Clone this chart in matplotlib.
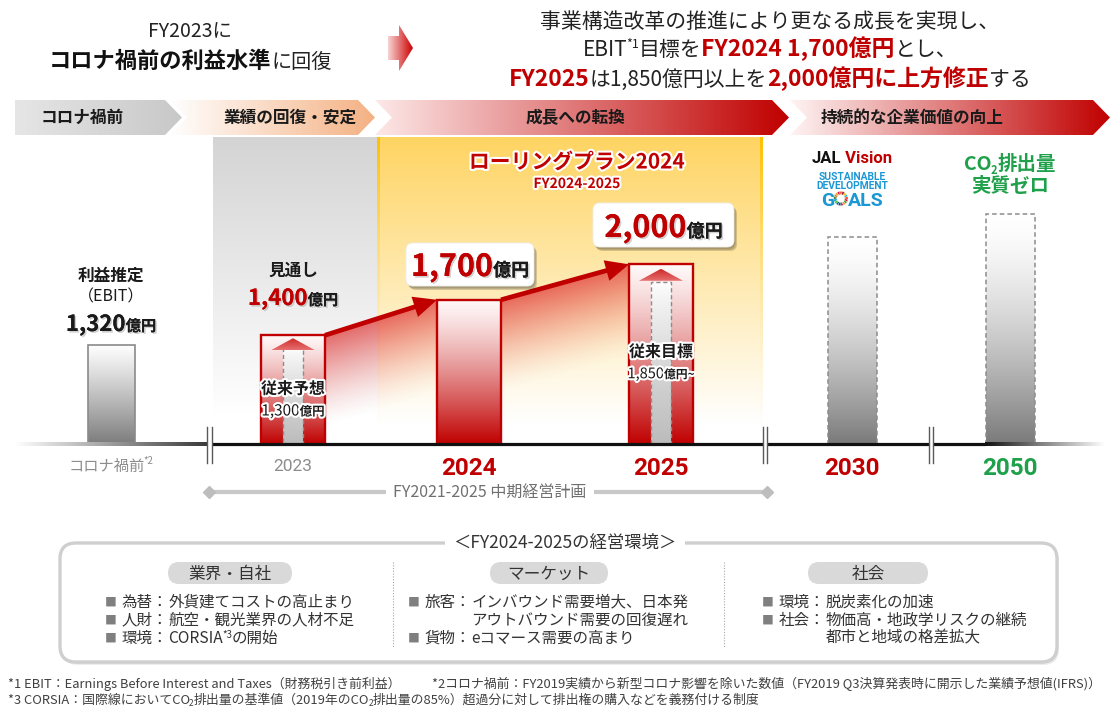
import numpy as np
import matplotlib
matplotlib.use('Agg')
import matplotlib.pyplot as plt
from matplotlib.patches import Polygon, FancyBboxPatch, FancyArrowPatch, Wedge
from matplotlib.colors import to_rgba
import matplotlib.patheffects as pe

JP = ['Noto Sans CJK JP', 'DejaVu Sans']
NUM = ['Roboto', 'Noto Sans CJK JP', 'DejaVu Sans']
NARROW = ['Liberation Sans Narrow', 'Roboto', 'DejaVu Sans']
plt.rcParams['font.family'] = JP

# ---------------- data ----------------
period_labels = ['コロナ禍前', '2023', '2024', '2025', '2030', '2050']
ebit_values = [1320, 1400, 1700, 2000]      # 億円 (利益推定, 見通し, 目標, 目標)
ebit_text = ['1,320', '1,400', '1,700', '2,000']
previous_plan = [1300, 1850]                # 従来予想(2023), 従来目標(2025)
previous_text = ['1,300', '1,850']
vision_levels = [2230, 2430]                # 2030 / 2050 (illustrative, no value shown)
phase_labels = ['コロナ禍前', '業績の回復・安定', '成長への転換', '持続的な企業価値の向上']
env_headers = ['業界・自社', 'マーケット', '社会']
env_items = [
    [('為替', '外貨建てコストの高止まり'), ('人財', '航空・観光業界の人材不足'), ('環境', 'CORSIA*3の開始')],
    [('旅客', 'インバウンド需要増大、日本発'), (None, 'アウトバウンド需要の回復遅れ'), ('貨物', 'eコマース需要の高まり')],
    [('環境', '脱炭素化の加速'), ('社会', '物価高・地政学リスクの継続'), (None, '都市と地域の格差拡大')],
]

# ---------------- layout ----------------
W, H = 1113, 715
BASE = 444
TOP_PANEL = 137
YMIN = 480
PX_PER = 0.1182
YMAX = YMIN + (BASE - TOP_PANEL) / PX_PER
xc = [111, 293, 469, 661, 852, 1010]
bw = [47, 64, 64, 64, 49, 49]
RED = '#c00000'
GREEN = '#1fa04a'
GRAYTXT = '#8c8c8c'

fig = plt.figure(figsize=(W / 100, H / 100), dpi=100, facecolor='white')
bg = fig.add_axes([0, 0, 1, 1])
bx = fig.add_axes([0, (H - BASE) / H, 1, (BASE - TOP_PANEL) / H])
fg = fig.add_axes([0, 0, 1, 1])
for a, z in ((bg, 0), (bx, 1), (fg, 2)):
    a.set_zorder(z)
    a.axis('off')
    a.patch.set_visible(False)


def reset():
    for a in (bg, fg):
        a.set_xlim(0, W)
        a.set_ylim(H, 0)
    bx.set_xlim(0, W)
    bx.set_ylim(YMIN, YMAX)


reset()
renderer = fig.canvas.get_renderer()


def grad(a, extent, c0, c1, horizontal=False, gamma=1.0, a0=1.0, a1=1.0, clip=None, z=1, n=256):
    t = np.linspace(0, 1, n) ** gamma
    c0 = np.array(to_rgba(c0, a0))
    c1 = np.array(to_rgba(c1, a1))
    arr = c0 * (1 - t[:, None]) + c1 * t[:, None]
    arr = arr[None, :, :] if horizontal else arr[:, None, :]
    im = a.imshow(arr, extent=extent, origin='upper', aspect='auto',
                  interpolation='bilinear', zorder=z)
    if clip is not None:
        im.set_clip_path(clip)
    return im


def rich(a, x, yc, pieces, ha='center', z=10, effects=None):
    objs = []
    maxpx = max(kw.get('size', 10) for _, kw in pieces) / 0.72
    yb = yc + 0.36 * maxpx
    for s, kw in pieces:
        kw = dict(kw)
        dy = kw.pop('dy', 0)
        dx = kw.pop('dx', 0)
        kw.setdefault('family', JP)
        t = a.text(0, 0, s, ha='left', va='baseline', zorder=z, **kw)
        if effects:
            t.set_path_effects(effects)
        w = t.get_window_extent(renderer).width
        objs.append([t, dy, w, dx])
    total = sum(o[2] + o[3] for o in objs)
    cur = {'center': x - total / 2, 'left': x, 'right': x - total}[ha]
    for o in objs:
        cur += o[3]
        o[0].set_position((cur, yb + o[1]))
        o.append(cur)
        cur += o[2]
    return objs, cur, yb


# ---------------- header ----------------
rich(fg, 190, 30, [('FY2023に', dict(size=14, color='#222222'))])
rich(fg, 190, 60, [('コロナ禍前の利益水準', dict(size=16, weight='bold', color='#111111')),
                   ('に回復', dict(size=14.5, color='#222222'))])

arrow_pts = [(388, 36), (399, 36), (399, 25), (413, 48), (399, 71), (399, 60), (388, 60)]
p = Polygon(arrow_pts, closed=True, transform=bg.transData, fc='none', ec='none')
bg.add_patch(p)
grad(bg, (388, 413, 71, 25), '#f8d4d4', '#cc0000', horizontal=True, clip=p, z=2)

rich(fg, 770, 20, [('事業構造改革の推進により更なる成長を実現し、', dict(size=15, color='#222222'))])
rich(fg, 770, 48, [('EBIT', dict(size=15, color='#222222')),
                   ('*1', dict(size=9, color='#222222', dy=-8, dx=-1.5)),
                   ('目標を', dict(size=15, color='#222222')),
                   ('FY2024 1,700億円', dict(size=16.5, weight='bold', color=RED)),
                   ('とし、', dict(size=15, color='#222222'))])
rich(fg, 770, 78, [('FY2025', dict(size=16.5, weight='bold', color=RED)),
                   ('は1,850億円以上を', dict(size=15, color='#222222')),
                   ('2,000億円に上方修正', dict(size=16.5, weight='bold', color=RED)),
                   ('する', dict(size=15, color='#222222'))])

# ---------------- phase banner ----------------
def chevron(x0, x1, notch, tip=17, y0=100, y1=135):
    ym = (y0 + y1) / 2
    pts = [(x0, y0), (x1, y0), (x1 + tip, ym), (x1, y1), (x0, y1)]
    if notch:
        pts.append((x0 + tip, ym))
    return pts


phase_geom = [(15, 165, False, '#e6e6e6', '#c8c8c8'),
              (170, 358, True, '#ffffff', '#f4b183'),
              (375, 772, True, '#fde8e8', '#c00000'),
              (790, 1093, True, '#fff4f4', '#c00000')]
phase_text_x = [82, 290, 575, 912]
for (x0, x1, notch, c0, c1), lab, tx in zip(phase_geom, phase_labels, phase_text_x):
    p = Polygon(chevron(x0, x1, notch), closed=True, transform=bg.transData, fc='none', ec='none')
    bg.add_patch(p)
    grad(bg, (x0, x1 + 17, 135, 100), c0, c1, horizontal=True, clip=p, z=2)
    rich(fg, tx, 117, [(lab, dict(size=12, weight='bold', color='#1a1a1a'))])

# ---------------- background panels ----------------
grad(bg, (213, 377, 415, TOP_PANEL), '#d4d4d4', '#ffffff', z=1)
grad(bg, (377, 763, 425, TOP_PANEL), '#fed462', '#ffffff', z=1)
grad(bg, (377, 380, 425, TOP_PANEL), '#ffc000', '#ffffff', a1=0, z=1.2)
grad(bg, (760, 763, 425, TOP_PANEL), '#ffc000', '#ffffff', a1=0, z=1.2)

# ---------------- red fill under growth path ----------------
x23r = xc[1] + bw[1] / 2
x24l = xc[2] - bw[2] / 2
x24r = xc[2] + bw[2] / 2
x25l = xc[3] - bw[3] / 2
gx = np.linspace(x23r, x25l, 400)
gy = np.linspace(YMIN, ebit_values[3], 400)
line = np.interp(gx, [x23r, x24l, x24r, x25l],
                 [ebit_values[1], ebit_values[2], ebit_values[2], ebit_values[3]])
d = line[None, :] - gy[:, None]
alpha = np.where(d >= 0, np.clip(1 - d / 800, 0, 1) ** 1.5, 0) * 0.75
rgba = np.zeros((400, 400, 4))
rgba[..., :3] = to_rgba('#e03a3a')[:3]
rgba[..., 3] = alpha
bx.imshow(rgba, extent=(x23r, x25l, YMIN, ebit_values[3]), origin='lower',
          aspect='auto', zorder=2, interpolation='bilinear')

# ---------------- bars ----------------
bar_vals = ebit_values + vision_levels
bars = bx.bar(xc, bar_vals, width=bw, facecolor='none', zorder=4)
for i, b in enumerate(bars):
    l, r = xc[i] - bw[i] / 2, xc[i] + bw[i] / 2
    if i == 0:
        b.set_edgecolor('#8a8a8a'); b.set_linewidth(1.2)
        grad(bx, (l, r, YMIN, bar_vals[i]), '#ffffff', '#7c7c7c', gamma=1.1, clip=b, z=3)
    elif i <= 3:
        b.set_edgecolor(RED); b.set_linewidth(1.7)
        grad(bx, (l, r, YMIN, bar_vals[i]), '#fff8f8', '#c00000', gamma=1.25, clip=b, z=3)
    else:
        b.set_edgecolor('#8c8c8c'); b.set_linewidth(1.1); b.set_linestyle((0, (3, 2)))
        grad(bx, (l, r, YMIN, bar_vals[i]), '#ffffff', '#7a7a7a', gamma=1.5, clip=b, z=3)

# inner "up" arrows and previous-plan dashed bars
for bi, pv in zip([1, 3], previous_plan):
    x = xc[bi]
    gap_px = (ebit_values[bi] - pv) * PX_PER
    off_px = min(5.0, 0.25 * gap_px)
    top = ebit_values[bi] - off_px / PX_PER
    base = top - 12 / PX_PER
    hw, sw = 22, 10
    if base > pv:
        shaft = Polygon([(x - sw, base), (x + sw, base), (x + sw, pv), (x - sw, pv)], closed=True,
                        transform=bx.transData, fc='none', ec='none')
        bx.add_patch(shaft)
        grad(bx, (x - sw, x + sw, pv, base), '#ec9a9a', '#ffffff', a1=0.9, clip=shaft, z=5)
    ib = bx.bar([x], [pv], width=2 * sw, facecolor='none', edgecolor='#8c8c8c',
                linestyle=(0, (3, 2)), linewidth=1.0, zorder=6)
    grad(bx, (x - sw, x + sw, YMIN, pv), '#ffffff', '#bcbcbc', gamma=0.8, clip=ib[0], z=5.5)
    head = Polygon([(x, top), (x + hw, base), (x - hw, base)], closed=True,
                   transform=bx.transData, fc='none', ec='none')
    bx.add_patch(head)
    grad(bx, (x - hw, x + hw, base, top), '#cf2a2a', '#e67070', clip=head, z=6.5)

# growth path arrows
for i, j in [(1, 2), (2, 3)]:
    start = (xc[i] + bw[i] / 2, ebit_values[i])
    end = (xc[j] - bw[j] / 2, ebit_values[j])
    fa = FancyArrowPatch(start, end, arrowstyle='-|>,head_length=11,head_width=5',
                         mutation_scale=1, color=RED, lw=3.4, shrinkA=0, shrinkB=0,
                         zorder=7, joinstyle='miter', capstyle='butt')
    bx.add_patch(fa)

# ---------------- axis line and breaks ----------------
grad(fg, (15, 207, 445.6, 442.4), '#ffffff', '#3a3a3a', horizontal=True, z=7)
for x0, x1 in [(212, 763), (767, 929), (933, 985)]:
    fg.plot([x0, x1], [BASE, BASE], color='#111111', lw=2.3, solid_capstyle='butt', zorder=7)
grad(fg, (985, 1105, 445.6, 442.4), '#111111', '#ffffff', horizontal=True, z=7)
for bxp in [209.5, 765, 931]:
    for off in (-2.2, 2.2):
        fg.plot([bxp + off, bxp + off], [427, 463], color='#5a5a5a', lw=1.0, zorder=8)

# ---------------- bar annotations ----------------
shadow = [pe.withSimplePatchShadow(offset=(1.2, -1.2), shadow_rgbFace='#9a9a9a', alpha=0.45), pe.Normal()]
glow = [pe.withStroke(linewidth=3, foreground='white')]

rich(fg, xc[0], 275, [('利益推定', dict(size=12, weight='bold', color='#1a1a1a'))])
rich(fg, xc[0], 296, [('（EBIT）', dict(size=11.5, color='#1a1a1a'))])
rich(fg, xc[0], 323, [(ebit_text[0], dict(size=16, weight='bold', color='#1a1a1a')),
                      ('億円', dict(size=11, weight='bold', color='#1a1a1a'))], effects=shadow)

rich(fg, xc[1], 270, [('見通し', dict(size=12, weight='bold', color='#1a1a1a'))])
rich(fg, xc[1], 297, [(ebit_text[1], dict(size=16, weight='bold', color=RED)),
                      ('億円', dict(size=11, weight='bold', color='#1a1a1a'))], effects=shadow)
rich(fg, xc[1], 388, [('従来予想', dict(size=11.5, weight='bold', color='#1a1a1a'))], effects=glow)
rich(fg, xc[1], 410, [(previous_text[0], dict(size=11, color='#1a1a1a')),
                      ('億円', dict(size=9, weight='bold', color='#1a1a1a'))], effects=glow)

for (bxl, byt, bwid, bht), tval, yc in [((406, 243, 128, 43), ebit_text[2], 265),
                                        ((593, 203, 141, 44), ebit_text[3], 226)]:
    for k, al in enumerate([0.10, 0.12, 0.16]):
        sh = FancyBboxPatch((bxl + 1 + k, byt + 2 + k), bwid, bht,
                            boxstyle='round,pad=0,rounding_size=7', fc='#000000', ec='none',
                            alpha=al, zorder=8.5, transform=fg.transData)
        fg.add_patch(sh)
    box = FancyBboxPatch((bxl, byt), bwid, bht, boxstyle='round,pad=0,rounding_size=7',
                         fc='white', ec='#eeeeee', lw=0.6, zorder=9)
    fg.add_patch(box)
    rich(fg, bxl + bwid / 2, yc, [(tval, dict(size=22, weight='bold', color=RED)),
                                 ('億円', dict(size=13, weight='bold', color='#1a1a1a'))],
         effects=shadow)

rich(fg, xc[3], 351, [('従来目標', dict(size=11.5, weight='bold', color='#1a1a1a'))], effects=glow)
rich(fg, xc[3], 373, [(previous_text[1], dict(size=10.5, color='#1a1a1a')),
                      ('億円~', dict(size=8.5, weight='bold', color='#1a1a1a'))], effects=glow)

rich(fg, 577, 161, [('ローリングプラン2024', dict(size=15, weight='bold', color=RED))], effects=glow)
rich(fg, 577, 183, [('FY2024-2025', dict(size=10, weight='bold', color=RED))], effects=glow)

# JAL Vision / SDGs
rich(fg, xc[4], 157, [('JAL', dict(size=12, weight='bold', color='#111111', family=NARROW)),
                      (' Vision', dict(size=12, weight='bold', color=RED, family=NARROW))])
SDG_BLUE = '#1b97d4'
rich(fg, xc[4], 176.5, [('SUSTAINABLE', dict(size=7.4, weight='bold', color=SDG_BLUE, family=NARROW))])
rich(fg, xc[4], 185.5, [('DEVELOPMENT', dict(size=7.4, weight='bold', color=SDG_BLUE, family=NARROW))])
objs, _, yb = rich(fg, xc[4], 198.5, [('G', dict(size=14, weight='bold', color=SDG_BLUE, family=NARROW)),
                                      ('O', dict(size=14, weight='bold', color=SDG_BLUE, alpha=0, family=NARROW)),
                                      ('ALS', dict(size=14, weight='bold', color=SDG_BLUE, family=NARROW))])
o_obj = objs[1]
cx = o_obj[4] + o_obj[2] / 2
spx = 14 / 0.72
cy = yb - 0.36 * spx
rr = 0.37 * spx
sdg_colors = ['#E5243B', '#DDA63A', '#4C9F38', '#C5192D', '#FF3A21', '#26BDE2', '#FCC30B',
              '#A21942', '#FD6925', '#DD1367', '#FD9D24', '#BF8B2E', '#3F7E44', '#0A97D9',
              '#56C02B', '#00689D', '#19486A']
for k, col in enumerate(sdg_colors):
    wd = Wedge((cx, cy), rr, 90 - (k + 1) * 360 / 17, 90 - k * 360 / 17, width=rr * 0.45,
               fc=col, ec='white', lw=0.2, zorder=11)
    fg.add_patch(wd)

rich(fg, xc[5], 163, [('CO', dict(size=14, weight='bold', color=GREEN)),
                      ('2', dict(size=8, weight='bold', color=GREEN, dy=4, dx=-1)),
                      ('排出量', dict(size=14, weight='bold', color=GREEN))])
rich(fg, xc[5], 185, [('実質ゼロ', dict(size=14, weight='bold', color=GREEN))])

# ---------------- period labels ----------------
rich(fg, xc[0], 465, [(period_labels[0], dict(size=11, color=GRAYTXT)),
                      ('*2', dict(size=7, color=GRAYTXT, dy=-6, dx=-2))])
rich(fg, xc[1], 465, [(period_labels[1], dict(size=12.5, color=GRAYTXT, family=NUM))])
for i, col in [(2, RED), (3, RED), (4, RED), (5, GREEN)]:
    rich(fg, xc[i], 466, [(period_labels[i], dict(size=17.5, weight='bold', color=col, family=NUM))])

# mid-term plan span
fg.plot([209, 767], [492, 492], color='#c8c8c8', lw=3, zorder=7, solid_capstyle='butt')
fg.plot([209, 767], [492, 492], ls='none', marker='D', ms=6, color='#bdbdbd', zorder=7)
fg.text(490, 492, 'FY2021-2025 中期経営計画', ha='center', va='center', size=11.5,
        color='#707070', zorder=8, bbox=dict(fc='white', ec='none', pad=5))

# ---------------- business environment box ----------------
for k, al in enumerate([0.05, 0.07]):
    fg.add_patch(FancyBboxPatch((61 + k, 545 + k), 997, 119,
                                boxstyle='round,pad=0,rounding_size=16', fc='#000000', ec='none',
                                alpha=al, zorder=6))
fg.add_patch(FancyBboxPatch((60, 543), 997, 119, boxstyle='round,pad=0,rounding_size=16',
                            fc='white', ec='#cfcfcf', lw=2.4, zorder=6.5))
fg.text(565, 543, '＜FY2024-2025の経営環境＞', ha='center', va='center', size=12.5,
        color='#333333', zorder=8, bbox=dict(fc='white', ec='none', pad=6))

pill_cx = [230, 549, 868]
pill_w = [124, 118, 120]
col_x = [105, 408, 762]
row_y = [601, 619, 637]
for hdr, pcx, pw in zip(env_headers, pill_cx, pill_w):
    fg.add_patch(FancyBboxPatch((pcx - pw / 2, 562), pw, 22,
                                boxstyle='round,pad=0,rounding_size=11', fc='#d9d9d9',
                                ec='none', zorder=7))
    rich(fg, pcx, 573, [(hdr, dict(size=12, color='#333333'))])

for sx in [393, 724]:
    fg.plot([sx, sx], [562, 648], color='#a8a8a8', lw=0.8, ls=(0, (1, 1.5)), zorder=7)

TXT = dict(size=11.2, color='#333333')
for items, x0 in zip(env_items, col_x):
    indent = x0
    for (label, body), yc in zip(items, row_y):
        if label is not None:
            _, e1, _ = rich(fg, x0, yc, [('■', dict(size=8.5, color='#7f7f7f'))], ha='left')
            _, e2, _ = rich(fg, e1 + 5, yc, [(label + '：', TXT)], ha='left')
            indent = e2
        else:
            e2 = indent
        if '*3' in body:
            a_, b_ = body.split('*3')
            rich(fg, e2, yc, [(a_, TXT), ('*3', dict(size=7, color='#333333', dy=-5, dx=-1)), (b_, TXT)], ha='left')
        else:
            rich(fg, e2, yc, [(body, TXT)], ha='left')

# ---------------- footnotes ----------------
FN = dict(size=9.3, color='#404040')
FNS = dict(size=6, color='#404040', dy=2, dx=-1)
rich(fg, 8, 683, [('*1 EBIT：Earnings Before Interest and Taxes（財務税引き前利益）', FN)], ha='left')
rich(fg, 432, 683, [('*2コロナ禍前：FY2019実績から新型コロナ影響を除いた数値（FY2019 Q3決算発表時に開示した業績予想値(IFRS)）', FN)], ha='left')
rich(fg, 8, 699, [('*3 CORSIA：国際線においてCO', FN), ('2', FNS), ('排出量の基準値（2019年のCO', FN),
                  ('2', FNS), ('排出量の85%）超過分に対して排出権の購入などを義務付ける制度', FN)], ha='left')

reset()
fig.savefig('out.png', dpi=100, facecolor='white')
